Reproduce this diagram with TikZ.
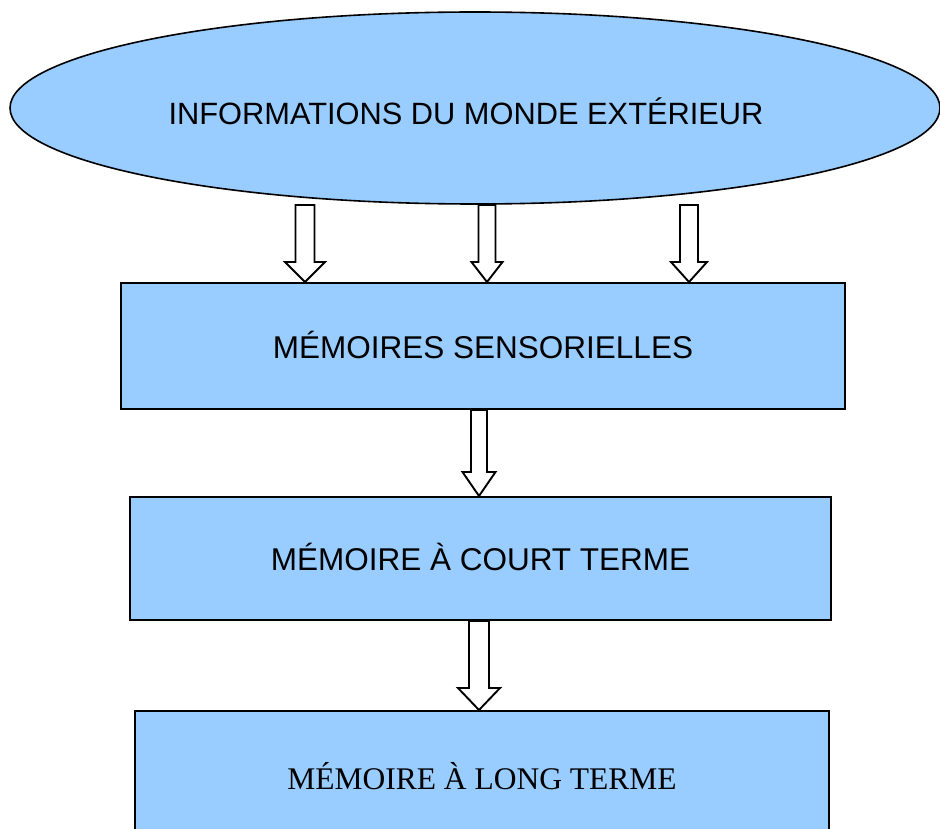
\documentclass[tikz,border=0pt]{standalone}
\usepackage{fontspec}
\setmainfont{Liberation Sans}
\newfontfamily\serifont{Liberation Serif}
\usetikzlibrary{shapes.geometric,calc}
\definecolor{boxblue}{HTML}{99CCFF}
\tikzset{
  memfill/.style={fill=boxblue,draw=black},
  membox/.style={memfill,rectangle,line width=2pt,inner sep=0pt,
     font=\fontsize{31.5}{36}\selectfont},
  arrowline/.style={draw=black,fill=white,line width=1.9pt,line join=miter},
}
\newcommand{\hollowarrow}[5]{%
  \draw[arrowline] ($(#1)+(-#3,0)$) -- ($(#2)+(-#3,-#5)$) -- ($(#2)+(-#4,-#5)$)
     -- (#2) -- ($(#2)+(#4,-#5)$) -- ($(#2)+(#3,-#5)$) -- ($(#1)+(#3,0)$) -- cycle;}
\newcommand{\lift}[1]{\raisebox{3pt}{#1}}
\begin{document}
\begin{tikzpicture}[x=1pt,y=-1pt]
\useasboundingbox (0,0) rectangle (940,829);
\clip (0,0) rectangle (940,829);
% ellipse
\node[memfill,ellipse,line width=1.6pt,minimum width=930pt,minimum height=192pt,inner sep=0pt,
  label={[xshift=-9pt,yshift=-3pt,font=\fontsize{30.8}{36}\selectfont]center:INFORMATIONS DU MONDE EXTÉRIEUR}]
  (ell) at (475,108) {};
% boxes
\node[membox,minimum width=724pt,minimum height=126pt] (b1) at (483,346) {\lift{MÉMOIRES SENSORIELLES}};
\node[membox,minimum width=701pt,minimum height=123pt] (b2) at (480.5,558.5) {\lift{MÉMOIRE À COURT TERME}};
\node[membox,minimum width=694pt,minimum height=130pt,font=\serifont\fontsize{31.5}{36}\selectfont] (b3) at (482,776) {\raisebox{1pt}{MÉMOIRE À LONG TERME}};
% arrow anchors
\coordinate (s1) at (305,205);
\coordinate (s2) at (487,205);
\coordinate (s3) at (689,205);
\coordinate (t1) at (s1 |- b1.north);
\coordinate (t2) at (s2 |- b1.north);
\coordinate (t3) at (s3 |- b1.north);
\coordinate (s4) at (479,0 |- b1.south);
\coordinate (t4) at (s4 |- b2.north);
\coordinate (s5) at (479,0 |- b2.south);
\coordinate (t5) at (s5 |- b3.north);
\hollowarrow{s1}{t1}{9.5}{20}{20}
\hollowarrow{s2}{t2}{8.5}{15.5}{20}
\hollowarrow{s3}{t3}{9}{18}{20}
\hollowarrow{s4}{t4}{8}{16.5}{24}
\hollowarrow{s5}{t5}{10}{21}{22}
\end{tikzpicture}
\end{document}
